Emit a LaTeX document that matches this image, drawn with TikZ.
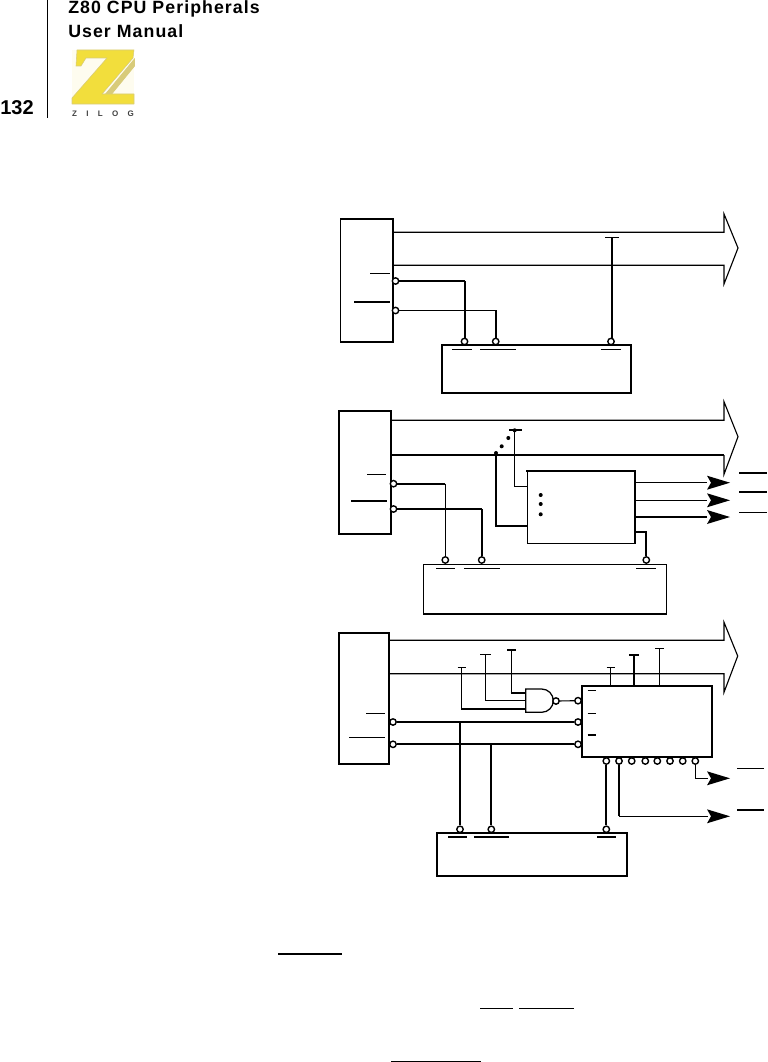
\documentclass[tikz,border=0pt]{standalone}
\usepackage{fontspec}
\setmainfont{Liberation Sans}
\newfontfamily\headfont[LetterSpace=6]{Liberation Sans}
\definecolor{zyellow}{HTML}{F2DE3C}
\definecolor{zshade}{HTML}{D8CB7A}
\tikzset{
  x=0.75pt,y=-0.75pt,
  thinw/.style={line width=0.85pt},
  midw/.style={line width=1.1pt},
  thickw/.style={line width=1.6pt},
  boxa/.style={draw,line width=1.4pt},
  pin/.style={circle,draw,fill=white,line width=1.05pt,inner sep=0pt,minimum size=4.8pt},
  headtext/.style={anchor=base west,inner sep=0pt,font=\headfont\bfseries\fontsize{13.3pt}{15pt}\selectfont},
}
\begin{document}
\begin{tikzpicture}
\useasboundingbox (0,0) rectangle (767,1062);
% header
\draw[line width=0.8pt] (47.5,0) -- (47.5,118);
\node[headtext] (h1) at (68,13.5) {Z80 CPU Peripherals};
\node[headtext] (h2) at (68,37.5) {User Manual};
\node[anchor=base west,inner sep=0pt,font=\bfseries\fontsize{15pt}{16pt}\selectfont] (pg) at (0,115) {132};
% logo
\fill[zyellow!8!white] (72,50) rectangle (134,105);
\fill[zshade,draw=zshade,line width=0.6pt] (134.5,59) -- (104,96) -- (110,96) -- (134.5,66) -- cycle;
\fill[zyellow,draw=zshade,line width=0.4pt,line join=round] (77,50) -- (134,50) -- (133,58) -- (102,94) -- (134,94) -- (134,104) -- (72,104) -- (72,98) -- (107,58) -- (86,58) -- (81,66) -- (76,66) -- cycle;
\node[inner sep=0pt,font=\bfseries\fontsize{6pt}{7pt}\selectfont,text=black!75] (zl) at (103,113.5) {Z\hspace{7pt}I\hspace{7pt}L\hspace{7pt}O\hspace{7pt}G};

% ===== diagram 1 =====
\draw[boxa] (340.5,219) rectangle (393,341.7);
\coordinate (a1s) at (393,232.3); \coordinate (a1t) at (393,265.3);
\draw[thinw,line join=miter] (a1s) -- (724,232.3) -- (724,214) -- (738,248) -- (724,284) -- (724,265.3) -- (a1t);
\draw[thinw] (370,273.3) -- (390,273.3);
\draw[thinw] (354,302) -- (390,302);
\node[pin] (a1p) at (395.5,281) {};
\node[pin] (a2p) at (395.5,310.5) {};
\node[pin] (a3p) at (464.5,341.5) {};
\node[pin] (a4p) at (495.7,341.5) {};
\node[pin] (a5p) at (611,341.5) {};
\draw[thinw] (a1p) -- (465,281);
\draw[thickw] (465,281) -- (465,339);
\draw[thinw] (a2p) -- (496,310.5) -- (496,339);
\draw[thickw] (611.7,237.5) -- (611.7,339);
\draw[thinw] (605,237.5) -- (619,237.5);
\draw[boxa] (441.7,345) rectangle (631,393.3);
\draw[thinw] (452,349.3) -- (472,349.3);
\draw[thinw] (480,349.3) -- (516,349.3);
\draw[thinw] (601,349.3) -- (621,349.3);

% ===== diagram 2 =====
\draw[boxa] (338.7,411.3) rectangle (391.3,534);
\draw[thinw] (391.3,420.3) -- (724,420.3) -- (724,401.7) -- (738,436.7) -- (724,474.3) -- (724,455);
\draw[thickw] (724,455) -- (391.3,455);
\draw[thinw] (367,474.3) -- (386,474.3);
\draw[thinw] (351,501) -- (387,501);
\node[pin] (b1p) at (393.5,483.7) {};
\node[pin] (b2p) at (393.5,509) {};
\node[pin] (b3p) at (445.3,560) {};
\node[pin] (b4p) at (481.7,560) {};
\node[pin] (b5p) at (646.3,560) {};
\draw[thickw] (b1p) -- (445.3,483.7);
\draw[thinw] (445.3,483.7) -- (b3p);
\draw[thinw] (b2p) -- (481.7,509);
\draw[thickw] (481.7,509) -- (b4p);
\foreach \p/\q in {496/453,501.7/446.3,508.3/438,514.7/430.3,540.7/495,540.7/504,540.7/514.3}
  \fill (\p,\q) circle (1.5pt);
\draw[thinw] (509,430) -- (521.7,430);
\draw[midw] (514.7,430) |- (527.5,486.3);
\draw[thickw] (496,453) |- (527.5,526);
\draw[thinw] (527.3,543.3) -- (527.3,471);
\draw[thinw] (527.3,543.3) -- (635,543.3);
\draw[thickw,line cap=rect] (527.3,471) -- (635,471) -- (635,543.3);
\draw[thickw] (635,531.7) -| (b5p);
\draw[thinw] (635,482.7) -- (707,482.7);
\draw[thinw] (635,500.3) -- (707,500.3);
\draw[thickw] (635,517) -- (707,517);
\foreach \q in {482.7,500.3,517}
  \fill (707,\q-7) -- (730,\q) -- (707,\q+7) -- (711,\q) -- cycle;
\foreach \q in {473,492,512.3}
  \draw[thinw] (739,\q) -- (767,\q);
\draw[thinw] (423.7,614) -- (423.7,564.3) -- (666.3,564.3) -- (666.3,614);
\draw[thickw] (423,614) -- (667,614);
\draw[thinw] (436,568.3) -- (455,568.3);
\draw[thinw] (464,568.3) -- (500,568.3);
\draw[thinw] (636,568.3) -- (656,568.3);

% ===== diagram 3 =====
\draw[boxa] (338.7,633) rectangle (389.3,763.7);
\draw[thinw] (389.3,640.3) -- (724,640.3) -- (724,622.3) -- (737.7,656) -- (724,692.3) -- (724,673.7) -- (389.3,673.7);
\draw[thinw] (366,713.7) -- (385,713.7);
\draw[thinw] (349,737.3) -- (385,737.3);
\node[pin] (c1p) at (393,722) {};
\node[pin] (c2p) at (393,744.3) {};
\node[pin] (c3p) at (578,700.7) {};
\node[pin] (c4p) at (578,722) {};
\node[pin] (c5p) at (578,744.3) {};
\node[pin] (c6p) at (460,829.3) {};
\node[pin] (c7p) at (491.3,829.3) {};
\node[pin] (c8p) at (606.3,829.3) {};
\draw[thinw] (c1p) -- (c4p);
\draw[thickw] (c2p) -- (c5p);
\draw[thickw] (460,722) -- (c6p);
\draw[thickw] (491.3,744) -- (c7p);
\draw[boxa] (581.7,685.7) rectangle (712,757);
\foreach \q in {690.3,713.3,735} \draw[thinw] (587.7,\q) -- (596,\q);
\foreach \i/\p in {1/606.3,2/619,3/631.7,4/645.3,5/657.3,6/670,7/682.7,8/695.3}
  \node[pin] (d\i) at (\p,761) {};
\draw[thickw] (d1) -- (c8p);
\draw[thinw] (d8) |- (708,778.3);
\draw[thickw] (d2) -- (619,816.3);
\draw[thinw] (619,816.3) -- (708,816.3);
\foreach \q in {778.3,816.3}
  \fill (707,\q-7) -- (730,\q) -- (707,\q+7) -- (711,\q) -- cycle;
\foreach \q in {768.3,810}
  \draw[thinw] (737,\q) -- (763.5,\q);
% nand gate
\draw[line width=0.95pt] (525.7,689) -- (541.7,689) arc[start angle=-90,end angle=90,x radius=11.6,y radius=11.65] -- (525.7,712.3) -- cycle;
\node[pin] (nb) at (556,701) {};
\draw[thinw] (nb) -- (c3p);
\draw[thinw] (461.7,667.3) -- (461.7,709);
\draw[thickw] (461,709) -- (525.7,709);
\draw[thinw] (457.7,667.3) -- (466,667.3);
\draw[thinw] (485.7,654.3) |- (525.7,700.7);
\draw[thinw] (480.3,654.3) -- (491,654.3);
\draw[midw] (511.3,649.7) -- (511.3,693);
\draw[thickw] (510.5,693) -- (525.7,693);
\draw[thickw] (507.3,649.7) -- (515.7,649.7);
\draw[thinw] (610.7,667.3) -- (610.7,685.7);
\draw[thinw] (606.7,667.3) -- (615,667.3);
\draw[thickw] (634,655) -- (634,685.7);
\draw[thickw] (629.3,655) -- (638.7,655);
\draw[midw] (659.3,648.7) -- (659.3,685.7);
\draw[midw] (655,648.7) -- (663.7,648.7);
\draw[boxa] (437.3,833.3) rectangle (627,876);
\draw[thinw] (448,837) -- (467,837);
\draw[thinw] (474,837) -- (509,837);
\draw[thinw] (597.3,837) -- (616,837);

% bottom bars
\draw[line width=1.6pt] (278,954) -- (342,954);
\draw[thinw] (480,1008.3) -- (513,1008.3);
\draw[thinw] (519,1008.3) -- (574,1008.3);
\draw[thinw] (391,1061.3) -- (481,1061.3);
\end{tikzpicture}
\end{document}
